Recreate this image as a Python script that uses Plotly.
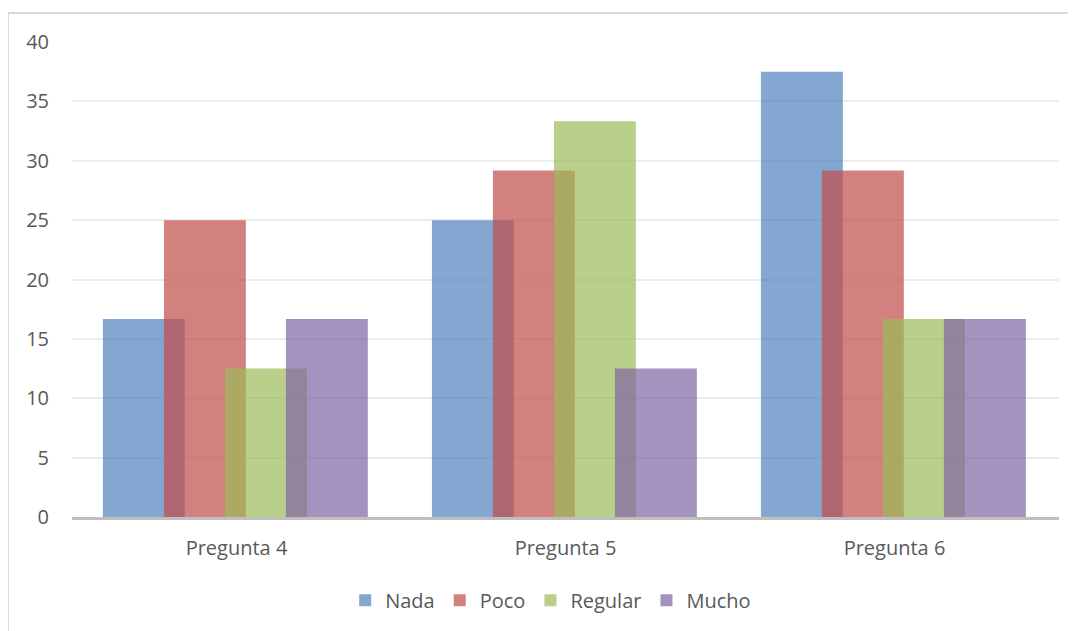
import plotly.graph_objects as go

categories = ["Pregunta 4", "Pregunta 5", "Pregunta 6"]
series_names = ["Nada", "Poco", "Regular", "Mucho"]
nada = [16.67, 25.0, 37.5]
poco = [25.0, 29.17, 29.17]
regular = [12.5, 33.33, 16.67]
mucho = [16.67, 12.5, 16.67]
y_ticks = [0, 5, 10, 15, 20, 25, 30, 35, 40]

values = [nada, poco, regular, mucho]
colors = ["rgba(79,129,189,0.7)", "rgba(192,80,77,0.72)", "rgba(155,187,89,0.7)", "rgba(128,100,162,0.7)"]

fig = go.Figure()
bar_w = 0.249
step = 0.1854
start = -0.406
for i, (name, vals, col) in enumerate(zip(series_names, values, colors)):
    fig.add_trace(go.Bar(
        x=categories, y=vals, name=name,
        width=bar_w, offset=start + i * step,
        marker=dict(color=col, line=dict(width=0)),
    ))

font_fam = "Open Sans, Liberation Sans, sans-serif"
fig.update_layout(
    barmode="overlay",
    width=1068, height=623,
    margin=dict(l=64, r=17, t=34, b=114, autoexpand=False),
    paper_bgcolor="white", plot_bgcolor="white",
    font=dict(family=font_fam, color="#595959", size=20),
    showlegend=True,
    legend=dict(orientation="h", x=0.485, xanchor="center", y=0.018, yanchor="bottom",
                yref="container",
                font=dict(size=20, color="#595959"), traceorder="normal",
                itemwidth=30, tracegroupgap=0),
    xaxis=dict(type="category", showgrid=False, showline=True, linecolor="#bfbfbf",
               linewidth=3, ticks="", tickfont=dict(size=20, color="#595959"),
               range=[-0.5, 2.5], ticklabelstandoff=11, automargin=False),
    yaxis=dict(range=[0, 40], tickvals=y_ticks, showgrid=True, gridcolor="#ececec",
               gridwidth=2, zeroline=False, showline=False, ticks="",
               tickfont=dict(size=20, color="#595959"), ticklabelstandoff=22, automargin=False),
    shapes=[
        dict(type="line", xref="paper", yref="paper", x0=-0.0648, x1=1.02, y0=1.0611, y1=1.0611,
             line=dict(color="#d9d9d9", width=2)),
        dict(type="line", xref="paper", yref="paper", x0=-0.0648, x1=-0.0648, y0=1.0611, y1=-0.25,
             line=dict(color="#d9d9d9", width=2)),
    ],
)

fig.write_html("out.html")
